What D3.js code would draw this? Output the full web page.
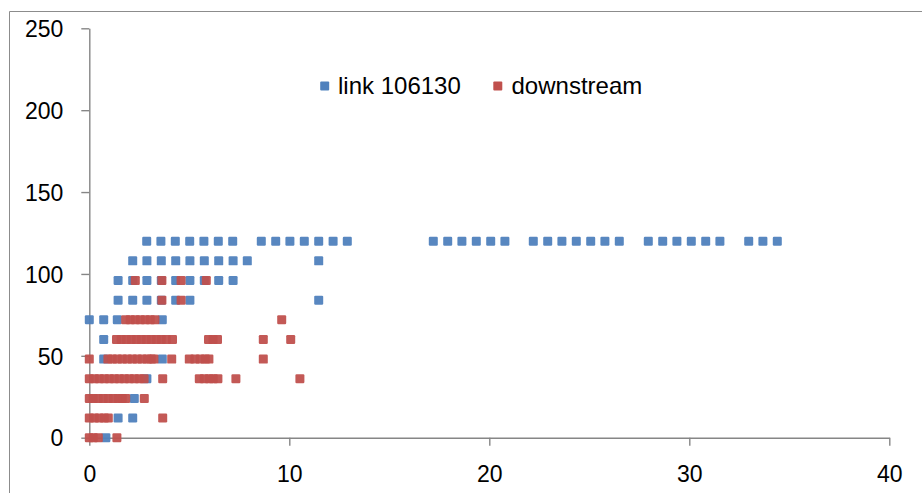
<!DOCTYPE html>
<html>
<head>
<meta charset="utf-8">
<script src="https://cdn.jsdelivr.net/npm/d3@7"></script>
<style>
  html, body { margin: 0; padding: 0; background: #fff; }
  svg { display: block; }
  text { font-family: "Liberation Sans", Arial, sans-serif; fill: #000; }
</style>
</head>
<body>
<svg id="chart" width="922" height="493"></svg>
<script>
// Occupancy levels (y) at which points were recorded
const levels = [0, 12, 24, 36, 48, 60, 72, 84, 96, 108, 120];

// x positions of "link 106130" points, one list per level above
const linkX = [
  [0.83],
  [1.44, 2.17],
  [2.25],
  [2.88],
  [0.72, 3.65],
  [0.72],
  [0, 0.72, 1.4, 3.65],
  [1.44, 2.17, 2.88, 3.6, 4.32, 5.03, 11.47],
  [1.44, 2.17, 2.88, 3.6, 4.32, 5.03, 5.75, 6.47, 7.19],
  [2.17, 2.88, 3.6, 4.32, 5.03, 5.75, 6.47, 7.19, 7.9, 11.47],
  [2.87, 3.58, 4.3, 5.02, 5.73, 6.45, 7.17, 8.6, 9.32, 10.03, 10.75, 11.47,
   12.19, 12.9, 17.2, 17.92, 18.63, 19.35, 20.07, 20.78, 22.2, 22.92, 23.63,
   24.35, 25.07, 25.78, 26.5, 27.95, 28.67, 29.38, 30.1, 30.82, 31.53, 32.97,
   33.68, 34.4]
];

// x positions of "downstream" points, one list per level above
const downstreamX = [
  [0, 0.2, 0.45, 1.38],
  [0, 0.25, 0.5, 0.75, 0.95, 3.67],
  [0, 0.2, 0.45, 0.7, 0.95, 1.2, 1.45, 1.65, 1.82, 2.75],
  [0, 0.25, 0.5, 0.75, 1.0, 1.25, 1.5, 1.75, 2.0, 2.25, 2.5, 2.74, 3.67,
   5.5, 5.75, 6.0, 6.2, 6.43, 7.33, 10.53],
  [0, 0.93, 1.15, 1.4, 1.65, 1.9, 2.15, 2.4, 2.65, 2.9, 3.1, 3.23, 4.12,
   5.0, 5.28, 5.55, 5.8, 5.98, 8.7],
  [1.36, 1.6, 1.85, 2.1, 2.35, 2.6, 2.85, 3.1, 3.35, 3.6, 3.85, 4.16,
   5.96, 6.19, 6.41, 8.7, 10.07],
  [1.82, 2.05, 2.3, 2.55, 2.8, 3.05, 3.28, 9.62],
  [3.63, 4.59],
  [2.3, 3.63, 4.59, 5.85],
  [],
  []
];

const seriesNames = ["link 106130", "downstream"];
const seriesColors = ["#4F81BD", "#C0504D"];
const xTicks = [0, 10, 20, 30, 40];
const yTicks = [0, 50, 100, 150, 200, 250];

const svg = d3.select("#chart");
const axisColor = "#868686";

// outer chart frame (left and top edges)
svg.append("path")
  .attr("d", "M9.5,493 V11.5 H922")
  .attr("fill", "none")
  .attr("stroke", "#8c8c8c")
  .attr("stroke-width", 1);

const x = d3.scaleLinear().domain([0, 40]).range([89.3, 889.3]);
const y = d3.scaleLinear().domain([0, 250]).range([437.7, 28.3]);

function toPoints(rows) {
  const pts = [];
  rows.forEach((xs, i) => xs.forEach(v => pts.push({ x: v, y: levels[i] })));
  return pts;
}

// axes
const yAxis = svg.append("g")
  .attr("transform", `translate(${x(0)},0)`)
  .call(d3.axisLeft(y).tickValues(yTicks).tickSize(8).tickPadding(18).tickSizeOuter(0));
const xAxis = svg.append("g")
  .attr("transform", `translate(0,${y(0)})`)
  .call(d3.axisBottom(x).tickValues(xTicks).tickSize(8).tickPadding(20).tickSizeOuter(0));

[xAxis, yAxis].forEach(g => {
  g.select(".domain").attr("stroke", axisColor).attr("stroke-width", 1.4);
  g.selectAll(".tick line").attr("stroke", axisColor).attr("stroke-width", 1.4);
  g.selectAll(".tick text")
    .attr("fill", "#000")
    .style("font-family", '"Liberation Sans", Arial, sans-serif')
    .style("font-size", "23px");
});
yAxis.selectAll(".tick text").attr("dy", "0.36em");
xAxis.selectAll(".tick text").attr("dy", "0.71em");

// markers
const size = 9;
[linkX, downstreamX].forEach((rows, si) => {
  svg.append("g")
    .selectAll("rect")
    .data(toPoints(rows))
    .join("rect")
    .attr("x", d => x(d.x) - size / 2)
    .attr("y", d => y(d.y) - size / 2)
    .attr("width", size)
    .attr("height", size)
    .attr("rx", 1.2)
    .attr("fill", seriesColors[si])
    .attr("fill-opacity", 0.95);
});

// legend
const legendItems = [
  { name: seriesNames[0], color: seriesColors[0], mx: 324.7, tx: 338 },
  { name: seriesNames[1], color: seriesColors[1], mx: 497.8, tx: 511.5 }
];
const legend = svg.append("g");
legendItems.forEach(it => {
  legend.append("rect")
    .attr("x", it.mx - 4.5).attr("y", 81.5)
    .attr("width", 9).attr("height", 9)
    .attr("rx", 1)
    .attr("fill", it.color);
  legend.append("text")
    .attr("x", it.tx).attr("y", 93.5)
    .style("font-size", "24px")
    .text(it.name);
});
</script>
</body>
</html>
